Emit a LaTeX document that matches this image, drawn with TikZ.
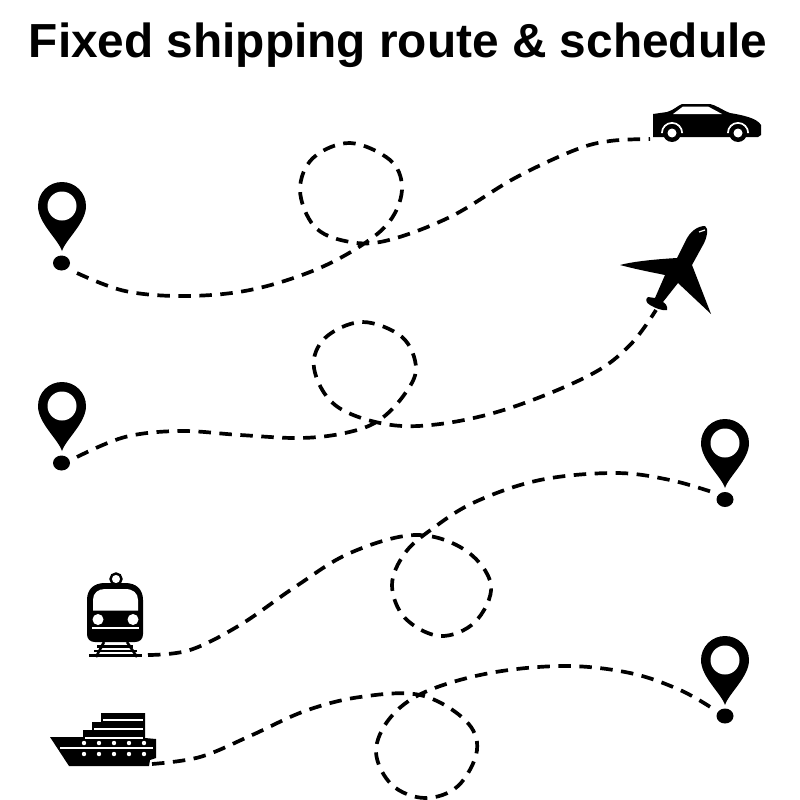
\documentclass[tikz,border=0pt]{standalone}
\usepackage{fontspec}
\usetikzlibrary{shapes.geometric}
\setmainfont{Liberation Sans}
\tikzset{
  route/.style={line width=3.7pt,dash pattern=on 12.5pt off 8.5pt,black},
  pindot/.style={ellipse,fill=black,inner sep=0pt,minimum width=17pt,minimum height=15pt},
  titletext/.style={font=\fontsize{47.8}{48}\selectfont\bfseries,anchor=base},
  pics/pin/.style={code={
    \fill[black] (0,45) .. controls (-4,33) and (-24,17) .. (-24,0) arc (180:360:24) .. controls (24,17) and (4,33) .. (0,45) -- cycle;
    \fill[white] (0,0) circle (14.5);
  }}
}
\begin{document}
\begin{tikzpicture}[x=1pt,y=-1pt]
\useasboundingbox (0,0) rectangle (800,800);
\node[titletext] (title) at (398,58) {Fixed shipping route \& schedule};

% pins
\pic at (62,206) {pin};
\pic at (62,406) {pin};
\pic at (725,443) {pin};
\pic at (725,660) {pin};
\node[pindot] (d1) at (61.5,263) {};
\node[pindot] (d2) at (61.5,463) {};
\node[pindot] (d3) at (725,499.5) {};
\node[pindot] (d4) at (725,716) {};

% named route ends
\coordinate (r1s) at (77,273);
\coordinate (r1e) at (650,139);
\coordinate (r2s) at (77,457);
\coordinate (r2e) at (656,310);
\coordinate (r3s) at (148,655);
\coordinate (r3e) at (715,493);
\coordinate (r4s) at (152,764);
\coordinate (r4e) at (715,710);

% routes
\draw[route] plot[smooth,tension=.6] coordinates {(r1s) (125,291) (185,296) (250,290) (315,270) (365,243) (392,218) (402,187) (390,160) (350,143) (313,158) (300,190) (314,226) (345,241) (385,241) (450,217) (515,178) (575,150) (610,141) (r1e)};
\draw[route] plot[smooth,tension=.6] coordinates {(r2s) (125,437) (180,431) (240,435) (300,438) (345,433) (378,421) (404,395) (416,368) (402,337) (362,322) (325,338) (314,368) (335,405) (385,424) (440,424) (510,408) (590,375) (630,345) (r2e)};
\draw[route] plot[smooth,tension=.6] coordinates {(r3s) (190,650) (240,625) (295,587) (350,553) (415,535) (465,550) (491,585) (475,622) (440,636) (405,618) (392,585) (405,553) (432,529) (475,502) (540,480) (615,473) (670,480) (r3e)};
\draw[route] plot[smooth,tension=.6] coordinates {(r4s) (200,757) (250,736) (305,711) (360,697) (420,695) (465,720) (477,750) (458,786) (425,798) (392,785) (376,752) (390,718) (425,692) (490,673) (565,666) (630,673) (680,690) (r4e)};

% car
\fill[black] (653,114) -- (667,112) .. controls (674,110) and (677,106) .. (682,104) -- (710,104) .. controls (716,105) and (722,110) .. (730,113) .. controls (742,115) and (757,118) .. (761,125) -- (761,135) -- (758,137) -- (653,137) -- cycle;
\fill[white] (673,114) -- (683,106.5) -- (708,106.5) -- (722,114) -- cycle;
\foreach \cx in {672,738}{
  \fill[white] (\cx-11,133) arc (180:360:11) -- (\cx+9,133) arc (360:180:9) -- cycle;
  \fill[black] (\cx,133) circle (9);
  \fill[white] (\cx,133) circle (4.5);
}

% plane
\fill[black] (705,226) .. controls (697,226) and (690,232) .. (686,240) -- (677,258)
  .. controls (660,259) and (635,261) .. (620,265)
  .. controls (635,269) and (650,272) .. (665,275) -- (655,298)
  -- (648,297) .. controls (645,299) and (646,303) .. (650,305) .. controls (655,308) and (662,311) .. (667,310)
  .. controls (668,306) and (665,303) .. (663,302) -- (678,283)
  -- (711,314) -- (692,265) -- (703,245) .. controls (707,238) and (709,228) .. (705,226) -- cycle;
\draw[white,line width=1.2pt] (699,232) -- (705,230);

% train
\draw[black,line width=2.4pt] (116,579) circle (5.5);
\fill[black] (87,600) .. controls (87,589) and (94,583) .. (105,583) -- (125,583) .. controls (136,583) and (143,589) .. (143,600) -- (143,634) .. controls (143,639) and (140,642) .. (135,642) -- (95,642) .. controls (90,642) and (87,639) .. (87,634) -- cycle;
\fill[white] (93,610.5) -- (93,600) .. controls (93,593) and (98,589) .. (105,589) -- (125,589) .. controls (133,589) and (138,593) .. (138,600) -- (138,610.5) -- cycle;
\fill[white] (98,619.5) circle (5.5) (133,619.5) circle (5.5);
\draw[white,line width=1.4pt] (92,628) -- (139,628);
\draw[black,line width=2.6pt] (104,642) -- (96,657) (127,642) -- (137,657);
\draw[black,line width=2.2pt] (97,646.5) -- (133,646.5) (94,651) -- (137,651) (89,655.5) -- (142,655.5);

% ship
\fill[black] (50,737) -- (83,737) -- (83,730) -- (92,730) -- (92,722) -- (101,722) -- (101,713) -- (145,713) -- (145,738) -- (156,739) -- (156,758) -- (150,760) -- (149,766) -- (69,766) -- cycle;
\draw[white,line width=1.6pt] (103,720) -- (143,720) (94,729) -- (143,729) (85,738) -- (143,738) (60,748) -- (153,748);
\foreach \sx in {84,99,114,129,144}{
  \fill[white] (\sx,743) circle (2.2) (\sx,754) circle (2.2);
}
\end{tikzpicture}
\end{document}
